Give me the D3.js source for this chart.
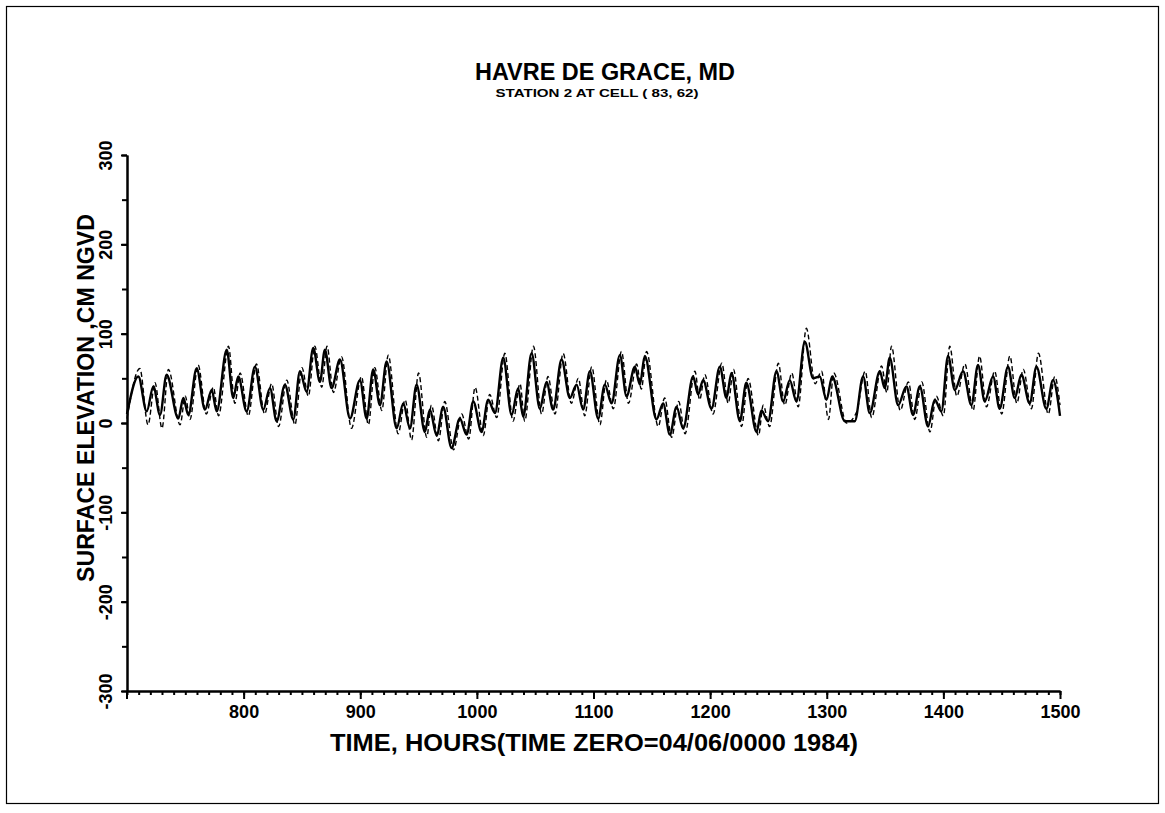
<!DOCTYPE html>
<html>
<head>
<meta charset="utf-8">
<script src="https://cdn.jsdelivr.net/npm/d3@7"></script>
<style>
  html, body { margin: 0; padding: 0; background: #fff; }
  svg { display: block; }
  text { font-family: "Liberation Sans", Arial, Helvetica, sans-serif; font-weight: bold; fill: #000; }
</style>
</head>
<body>
<svg id="chart" width="1165" height="813"></svg>
<script>
// Chart text
const titleText = "HAVRE DE GRACE, MD";
const subtitleText = "STATION 2 AT CELL ( 83, 62)";
const xLabelText = "TIME, HOURS(TIME ZERO=04/06/0000 1984)";
const yLabelText = "SURFACE ELEVATION ,CM NGVD";

// Axis ticks
const xTickLabels = [800, 900, 1000, 1100, 1200, 1300, 1400, 1500];
const yTickLabels = [-300, -200, -100, 0, 100, 200, 300];

// Computed surface elevation (solid line): successive highs and lows, hour / cm
const computedHours = [700, 709.7, 716.9, 722.6, 728.3, 734.0, 744.0, 748.3, 752.6, 759.7, 766.9, 772.6, 776.9, 785.5, 791.1, 795.4, 802.6, 809.7, 816.8, 822.6, 828.3, 835.4, 842.6, 848.3, 854.0, 859.7, 865.4, 869.7, 875.4, 882.6, 891.2, 899.7, 905.5, 911.1, 916.9, 922.6, 931.2, 936.9, 942.6, 948.3, 955.4, 959.7, 965.5, 971.1, 978.3, 985.4, 991.2, 996.9, 1004.0, 1009.7, 1015.5, 1022.6, 1029.8, 1035.4, 1039.7, 1046.9, 1054.0, 1059.7, 1065.4, 1072.6, 1079.7, 1085.5, 1091.1, 1096.9, 1104.0, 1109.7, 1115.5, 1122.6, 1128.3, 1135.5, 1139.7, 1144.0, 1154.0, 1159.7, 1165.5, 1171.2, 1176.9, 1185.4, 1189.7, 1194.0, 1201.2, 1208.3, 1214.0, 1218.3, 1225.5, 1231.0, 1239.8, 1244.0, 1249.7, 1256.9, 1262.6, 1268.3, 1274.0, 1281.2, 1288.3, 1294.0, 1299.8, 1304.6, 1315.5, 1324.0, 1331.2, 1336.9, 1345.5, 1349.7, 1354.0, 1361.2, 1368.3, 1374.0, 1379.8, 1386.9, 1392.6, 1398.3, 1404.0, 1409.8, 1416.9, 1424.0, 1429.7, 1435.5, 1442.6, 1448.3, 1455.4, 1461.2, 1466.9, 1474.0, 1479.8, 1488.3, 1494.0, 1500];
const computedElev = [10, 52, 13, 41, 9, 54, 5, 28, 9, 61, 15, 37, 13, 82, 28, 52, 13, 63, 15, 39, 2, 43, 4, 58, 35, 84, 46, 82, 39, 71, 5, 48, 5, 60, 20, 69, -6, 22, -6, 43, -10, 15, -14, 18, -28, 5, -13, 24, -10, 26, 11, 73, 9, 39, 7, 78, 16, 46, 15, 71, 28, 43, 15, 58, 5, 43, 22, 76, 30, 63, 43, 75, 4, 22, -13, 18, -6, 52, 32, 48, 16, 63, 28, 56, 2, 45, -10, 14, 2, 58, 24, 48, 24, 91, 50, 52, 26, 52, 2, 2, 52, 11, 58, 39, 73, 20, 41, 9, 41, -4, 26, 13, 75, 37, 58, 20, 65, 24, 52, 16, 63, 28, 54, 22, 63, 16, 48, 8];

// Observed surface elevation (dashed line): successive highs and lows, hour / cm
const observedHours = [700, 711, 718, 724, 730, 735.5, 745.5, 750, 754, 761, 768, 774, 778.5, 787, 792.5, 797, 804, 811, 818, 824, 830, 837, 844, 850, 855.5, 861, 867, 871.5, 877, 884, 892.5, 901, 907, 912.5, 918.5, 924, 932.5, 938.5, 944, 950, 957, 961, 967, 972.5, 980, 987, 993, 998.5, 1005.5, 1011, 1017, 1024, 1031, 1037, 1041, 1048.5, 1055.5, 1061, 1067, 1074, 1081, 1087, 1092.5, 1098.5, 1105.5, 1111, 1117, 1124, 1130, 1137, 1141, 1145.5, 1155.5, 1161, 1167, 1173, 1178.5, 1187, 1191, 1195.5, 1202.5, 1210, 1215.5, 1220, 1227, 1232.5, 1241.5, 1245.5, 1251, 1258.5, 1264, 1270, 1275.5, 1282.5, 1290, 1295.5, 1301.5, 1306, 1317, 1325.5, 1333, 1338.5, 1347, 1351.5, 1355.5, 1363, 1370, 1375.5, 1381.5, 1388.5, 1394, 1400, 1405.5, 1411.5, 1418.5, 1425.5, 1431, 1437, 1444, 1450, 1457, 1463, 1468.5, 1475.5, 1481.5, 1490, 1495.5, 1500];
const observedElev = [5, 61, -2, 45, -6, 60, -2, 30, 4, 65, 10, 40, 8, 86, 22, 56, 8, 66, 10, 44, -4, 48, -2, 62, 30, 86, 40, 86, 34, 74, -6, 52, -2, 62, 14, 76, -12, 26, -19, 56, -16, 20, -20, 24, -30, 10, -18, 40, -14, 32, 6, 78, 2, 44, 2, 86, 10, 52, 10, 78, 22, 50, 8, 63, -2, 48, 16, 80, 22, 66, 38, 80, -4, 28, -16, 24, -12, 58, 26, 54, 10, 67, 22, 60, -4, 50, -14, 20, -4, 67, 20, 56, 18, 106, 44, 58, 4, 56, 0, 12, 58, 6, 64, 34, 86, 14, 46, 4, 46, -10, 30, 8, 86, 30, 66, 14, 75, 18, 58, 10, 75, 22, 60, 16, 78, 10, 52, 20];

const svg = d3.select("#chart");
const plain = d => String(d);

// Page frame
svg.append("rect")
  .attr("x", 6.5).attr("y", 6.5)
  .attr("width", 1152).attr("height", 797)
  .attr("fill", "none").attr("stroke", "#000").attr("stroke-width", 1.2);

const x = d3.scaleLinear().domain([700, 1500]).range([127, 1060]);
const y = d3.scaleLinear().domain([-300, 300]).range([691, 155]);

// Titles
svg.append("text")
  .attr("x", 605).attr("y", 80)
  .attr("text-anchor", "middle")
  .attr("font-size", 23)
  .attr("textLength", 260).attr("lengthAdjust", "spacingAndGlyphs")
  .text(titleText);

svg.append("text")
  .attr("x", 597).attr("y", 97)
  .attr("text-anchor", "middle")
  .attr("font-size", 10)
  .attr("textLength", 203).attr("lengthAdjust", "spacingAndGlyphs")
  .text(subtitleText);

// X axis: minor ticks every 10 h, labelled major ticks every 100 h
const xMinor = d3.range(700, 1501, 10);
svg.append("g")
  .attr("transform", `translate(0,${y(-300)})`)
  .call(d3.axisBottom(x).tickValues(xMinor).tickSize(4).tickSizeOuter(0).tickFormat(""))
  .call(g => g.selectAll("path,line").attr("stroke", "#000").attr("stroke-width", 2));

const xAxis = svg.append("g")
  .attr("transform", `translate(0,${y(-300)})`)
  .call(d3.axisBottom(x).tickValues(xTickLabels).tickSize(8).tickSizeOuter(0).tickFormat(plain));
xAxis.select(".domain").attr("stroke", "#000").attr("stroke-width", 2);
xAxis.selectAll(".tick line").attr("stroke", "#000").attr("stroke-width", 2);
xAxis.selectAll(".tick text")
  .attr("font-family", "'Liberation Sans', Arial, sans-serif")
  .attr("font-weight", "bold")
  .attr("font-size", 18)
  .attr("fill", "#000")
  .attr("dy", null).attr("y", 27);

// Y axis: minor ticks every 50 cm, labelled major ticks every 100 cm;
// the axis line runs a little past the time axis
svg.append("g")
  .attr("transform", `translate(${x(700)},0)`)
  .call(d3.axisLeft(y).tickValues(d3.range(-300, 301, 50)).tickSize(5).tickSizeOuter(0).tickFormat(""))
  .call(g => g.selectAll("path,line").attr("stroke", "#000").attr("stroke-width", 2));

svg.append("line")
  .attr("x1", x(700)).attr("x2", x(700))
  .attr("y1", y(-300)).attr("y2", y(-300) + 8)
  .attr("stroke", "#000").attr("stroke-width", 2);

const yAxis = svg.append("g")
  .attr("transform", `translate(${x(700)},0)`)
  .call(d3.axisLeft(y).tickValues(yTickLabels).tickSize(6).tickSizeOuter(0).tickFormat(plain));
yAxis.select(".domain").attr("stroke", "#000").attr("stroke-width", 2);
yAxis.selectAll(".tick line").attr("stroke", "#000").attr("stroke-width", 2);
yAxis.selectAll(".tick text")
  .attr("font-family", "'Liberation Sans', Arial, sans-serif")
  .attr("font-weight", "bold")
  .attr("font-size", 18)
  .attr("fill", "#000")
  .attr("text-anchor", "middle")
  .attr("x", null).attr("dy", null)
  .attr("transform", "translate(-15,0) rotate(-90)");

// Axis titles
svg.append("text")
  .attr("x", 594).attr("y", 751)
  .attr("text-anchor", "middle")
  .attr("font-size", 23)
  .attr("textLength", 528).attr("lengthAdjust", "spacingAndGlyphs")
  .text(xLabelText);

svg.append("text")
  .attr("transform", `translate(94,398) rotate(-90)`)
  .attr("text-anchor", "middle")
  .attr("font-size", 24)
  .attr("textLength", 368).attr("lengthAdjust", "spacingAndGlyphs")
  .text(yLabelText);

// Elevation series
const line = d3.line().curve(d3.curveMonotoneX);

svg.append("path")
  .attr("d", line(observedHours.map((h, i) => [x(h), y(observedElev[i])])))
  .attr("fill", "none").attr("stroke", "#000")
  .attr("stroke-width", 1.4).attr("stroke-dasharray", "5,3");

svg.append("path")
  .attr("d", line(computedHours.map((h, i) => [x(h), y(computedElev[i])])))
  .attr("fill", "none").attr("stroke", "#000")
  .attr("stroke-width", 2.4).attr("stroke-linejoin", "round");
</script>
</body>
</html>
